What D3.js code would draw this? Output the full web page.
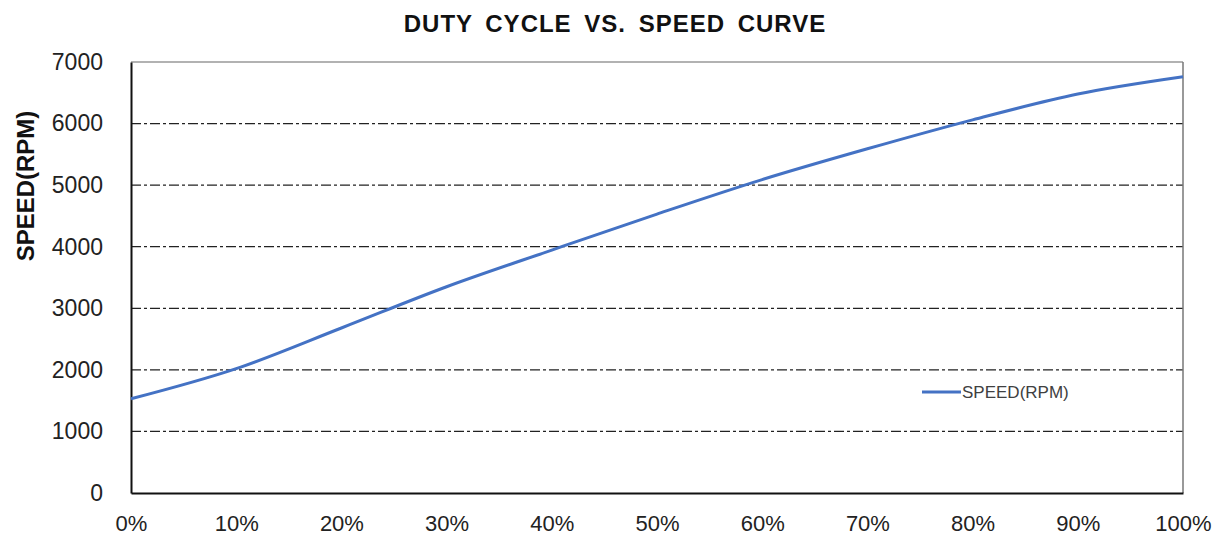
<!DOCTYPE html>
<html>
<head>
<meta charset="utf-8">
<script src="https://cdn.jsdelivr.net/npm/d3@7"></script>
<style>
  body { margin: 0; background: #fff; }
  svg { font-family: "Liberation Sans", Arial, sans-serif; }
</style>
</head>
<body>
<div id="chart"></div>
<script>
// datos
const duty = [0, 0.1, 0.2, 0.3, 0.4, 0.5, 0.6, 0.7, 0.8, 0.9, 1.0];
const speed = [1530, 2020, 2680, 3350, 3945, 4530, 5090, 5590, 6060, 6480, 6760];
const yTicks = [0, 1000, 2000, 3000, 4000, 5000, 6000, 7000];
const xTicks = [0, 0.1, 0.2, 0.3, 0.4, 0.5, 0.6, 0.7, 0.8, 0.9, 1.0];
const seriesName = "SPEED(RPM)";

const width = 1227, height = 540;
const plotLeft = 131, plotRight = 1183, plotTop = 62, plotBottom = 493;

const svg = d3.select("#chart").append("svg")
  .attr("width", width)
  .attr("height", height);

const x = d3.scaleLinear().domain([0, 1]).range([plotLeft, plotRight]);
const y = d3.scaleLinear().domain([0, 7000]).range([plotBottom, plotTop]);

// titulo
svg.append("text")
  .attr("x", 615).attr("y", 32)
  .attr("text-anchor", "middle")
  .attr("font-size", 24)
  .attr("font-weight", "bold")
  .attr("letter-spacing", 1)
  .attr("word-spacing", 5)
  .attr("fill", "#111")
  .text("DUTY CYCLE VS. SPEED CURVE");

// rejilla
svg.append("g")
  .selectAll("line")
  .data(yTicks.filter(d => d > 0 && d < 7000)).enter()
  .append("line")
  .attr("x1", plotLeft).attr("x2", plotRight)
  .attr("y1", d => y(d)).attr("y2", d => y(d))
  .attr("stroke", "#222")
  .attr("stroke-width", 1.3)
  .attr("stroke-dasharray", "10,3,3,3");

// marco
svg.append("line")
  .attr("x1", plotLeft).attr("x2", plotRight).attr("y1", plotTop).attr("y2", plotTop)
  .attr("stroke", "#999").attr("stroke-width", 1.5);
svg.append("line")
  .attr("x1", plotRight).attr("x2", plotRight).attr("y1", plotTop).attr("y2", plotBottom)
  .attr("stroke", "#777").attr("stroke-width", 1.5);

// ejes
const yAxis = d3.axisLeft(y).tickValues(yTicks).tickSize(0).tickPadding(28)
  .tickFormat(d3.format("d"));
const gy = svg.append("g").attr("transform", `translate(${plotLeft},0)`).call(yAxis);
gy.select(".domain").attr("stroke", "#111").attr("stroke-width", 2);
gy.selectAll("text").attr("font-size", 23).attr("fill", "#222")
  .attr("font-family", "Liberation Sans, Arial, sans-serif");

const xAxis = d3.axisBottom(x).tickValues(xTicks).tickSize(0).tickPadding(22)
  .tickFormat(d3.format(".0%"));
const gx = svg.append("g").attr("transform", `translate(0,${plotBottom})`).call(xAxis);
gx.select(".domain").attr("stroke", "#111").attr("stroke-width", 2);
gx.selectAll("text").attr("font-size", 22).attr("fill", "#222")
  .attr("font-family", "Liberation Sans, Arial, sans-serif");

// titulo eje y
svg.append("text")
  .attr("transform", "translate(34,186) rotate(-90)")
  .attr("text-anchor", "middle")
  .attr("font-size", 24)
  .attr("font-weight", "bold")
  .attr("fill", "#111")
  .text("SPEED(RPM)");

// curva
const data = duty.map((d, i) => [d, speed[i]]);
const line = d3.line()
  .x(d => x(d[0]))
  .y(d => y(d[1]))
  .curve(d3.curveMonotoneX);
svg.append("path")
  .datum(data)
  .attr("d", line)
  .attr("fill", "none")
  .attr("stroke", "#4472C4")
  .attr("stroke-width", 3);

// leyenda
svg.append("line")
  .attr("x1", 922).attr("x2", 961).attr("y1", 392).attr("y2", 392)
  .attr("stroke", "#4472C4").attr("stroke-width", 3);
svg.append("text")
  .attr("x", 962).attr("y", 398)
  .attr("font-size", 17)
  .attr("fill", "#404040")
  .text(seriesName);
</script>
</body>
</html>
